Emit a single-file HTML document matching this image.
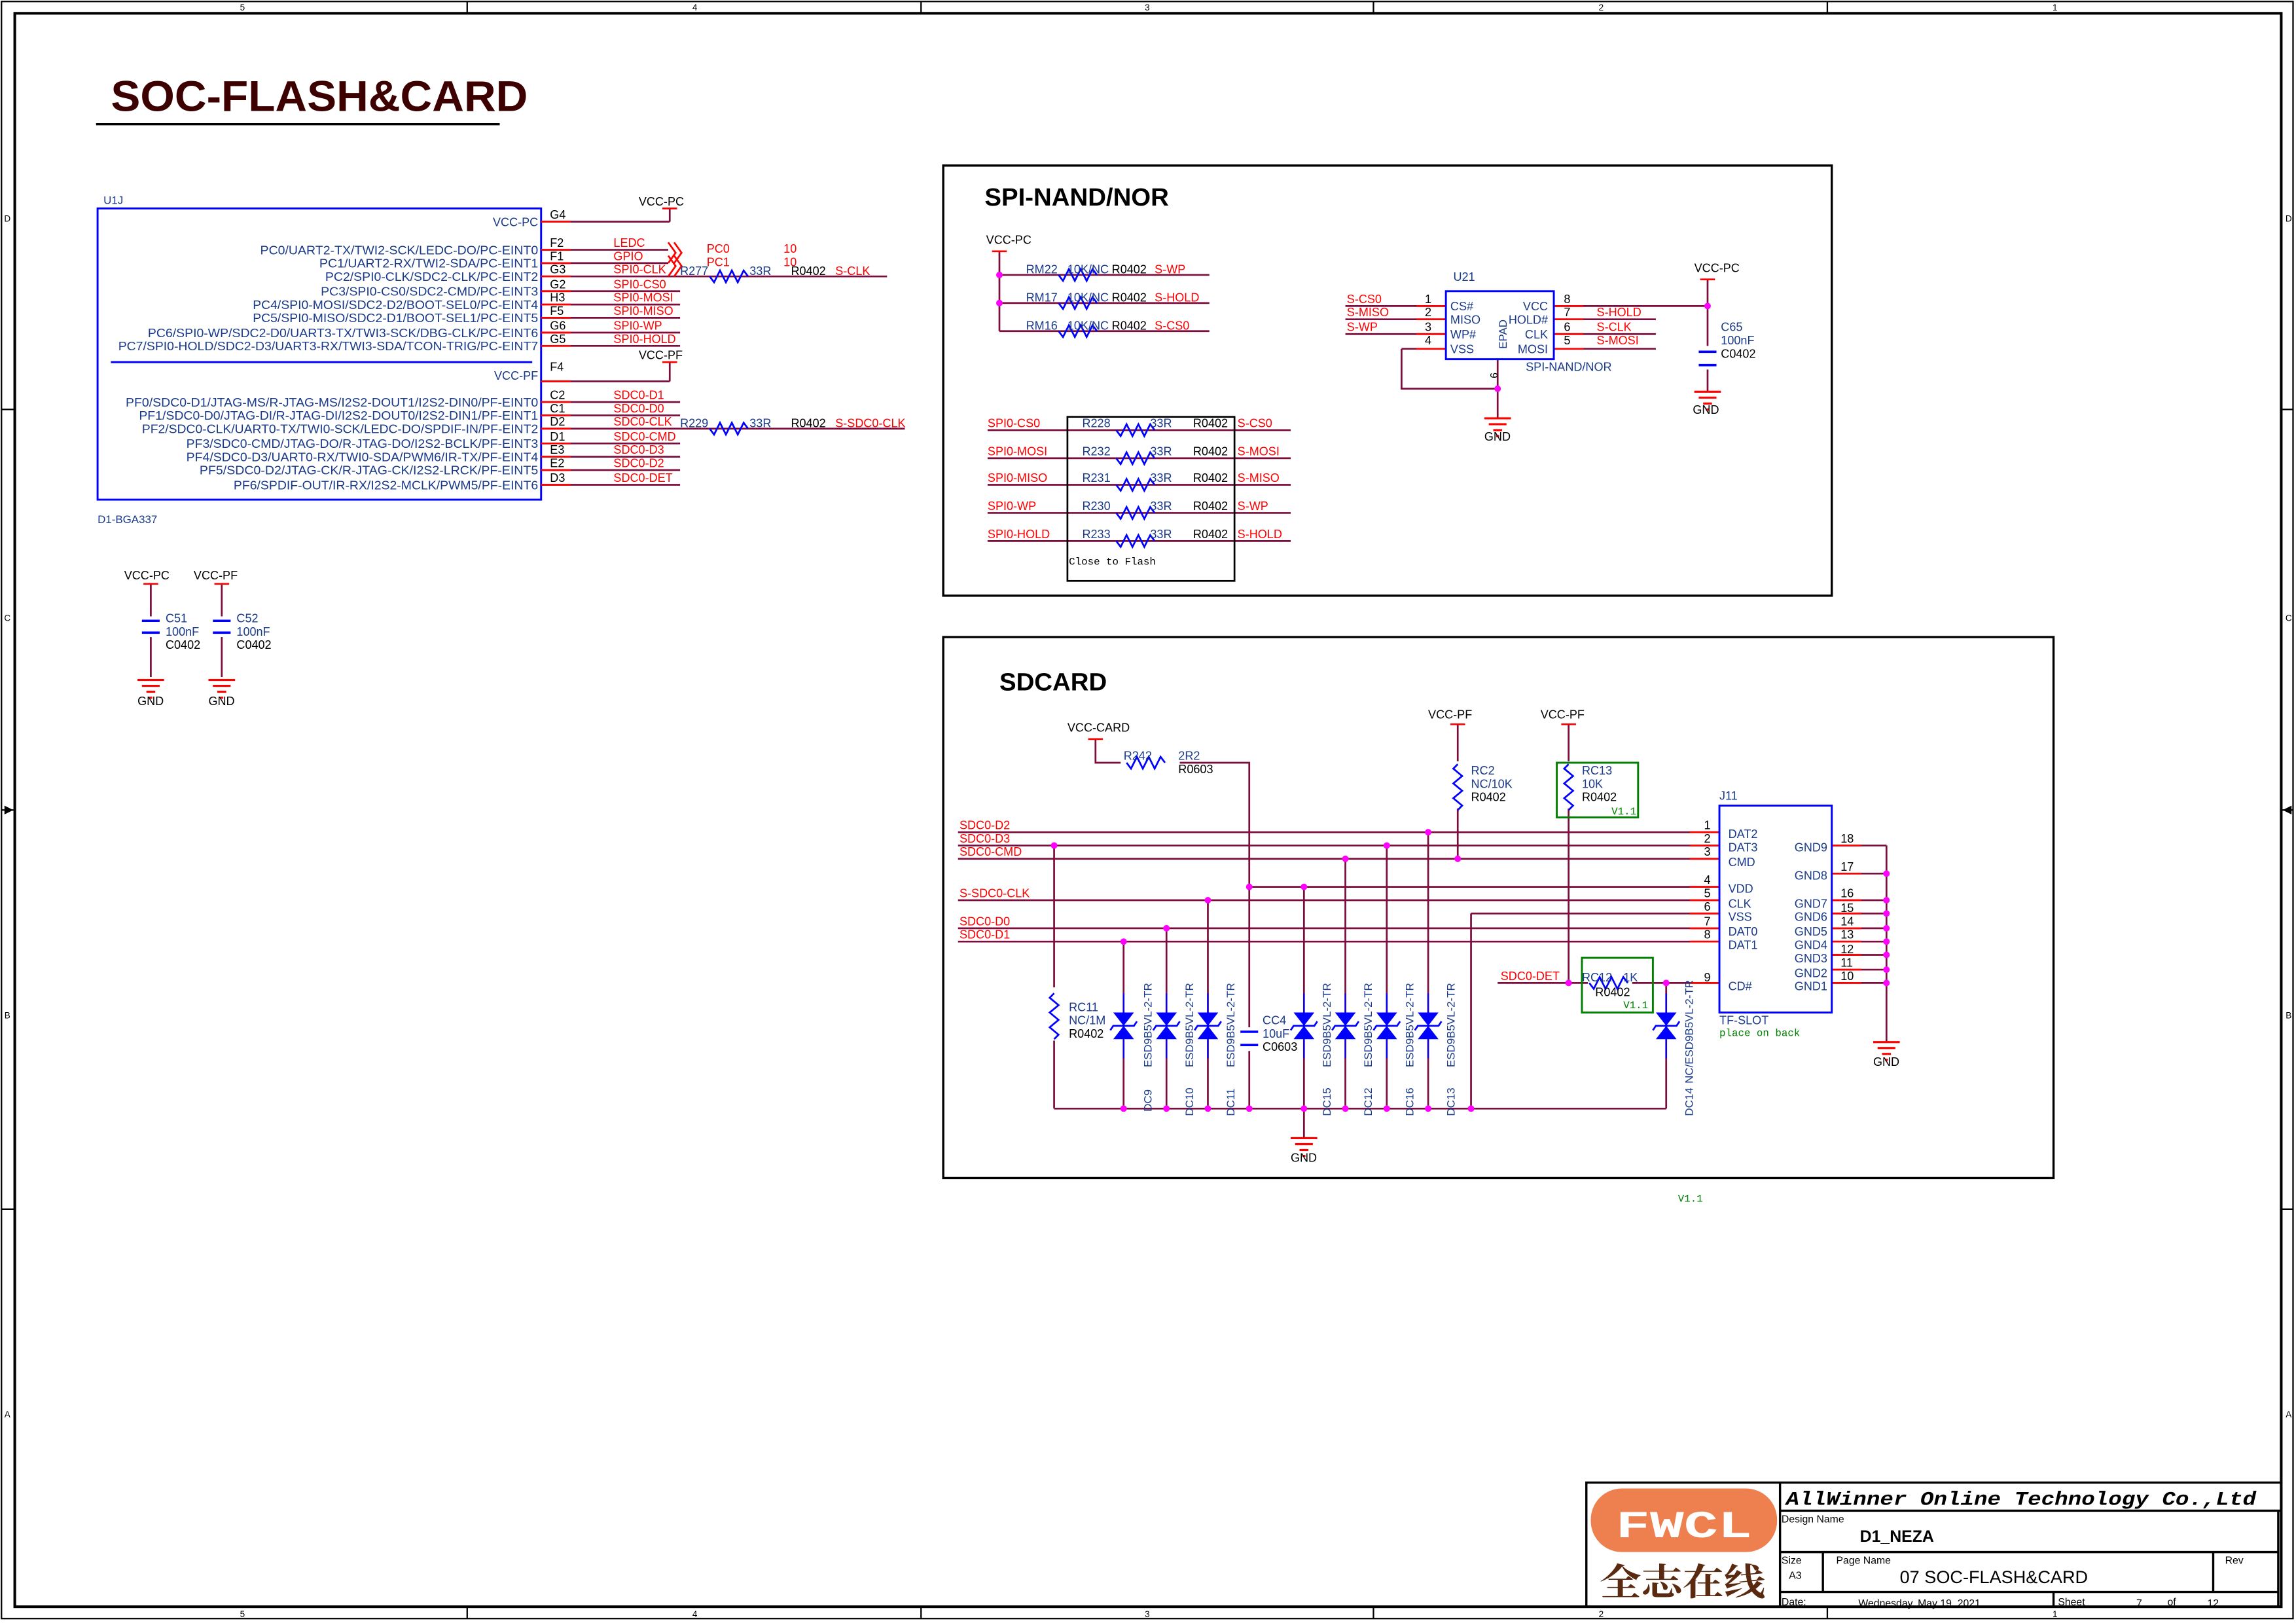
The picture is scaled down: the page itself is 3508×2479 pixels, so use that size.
<!DOCTYPE html>
<html><head><meta charset="utf-8"><style>html,body{margin:0;padding:0;background:#fff}svg{display:block}</style></head><body>
<svg xmlns="http://www.w3.org/2000/svg" width="3508" height="2479" viewBox="0 0 1553 1098" preserveAspectRatio="none" font-family="'Liberation Sans', sans-serif">
<defs>
<g id="gnd"><line x1="-9" y1="0" x2="9" y2="0" stroke="#f00" stroke-width="1.4"/><line x1="-6" y1="4" x2="6" y2="4" stroke="#f00" stroke-width="1.4"/><line x1="-3" y1="8" x2="3" y2="8" stroke="#f00" stroke-width="1.4"/><line x1="-1" y1="12" x2="1" y2="12" stroke="#f00" stroke-width="1.4"/></g>
<g id="tvs"><polygon points="-7,-9 7,-9 0,0" fill="#00f"/><polygon points="-7,9 7,9 0,0" fill="#00f"/><polyline points="-9,3 -7,0 7,0 9,-3" fill="none" stroke="#00f" stroke-width="1.2"/><line x1="0" y1="-22" x2="0" y2="-9" stroke="#00f" stroke-width="1"/><line x1="0" y1="9" x2="0" y2="22" stroke="#00f" stroke-width="1"/></g>
<path id="rh" d="M0,0 l3,4 l4,-8 l4,8 l4,-8 l4,8 l4,-8 l3,4" fill="none" stroke="#00f" stroke-width="1.2"/>
<path id="rv" d="M0,0 l-3,3 l6,5 l-6,5 l6,5 l-6,5 l6,5 l-3,3" fill="none" stroke="#00f" stroke-width="1.2"/>
</defs>
<!-- frame -->
<rect x="1" y="1" width="1550" height="1094" fill="none" stroke="#000" stroke-width="1"/>
<rect x="10" y="9" width="1533" height="1078" fill="none" stroke="#000" stroke-width="1.8"/>
<g stroke="#000" stroke-width="1"><line x1="316" y1="1" x2="316" y2="9"/><line x1="623" y1="1" x2="623" y2="9"/><line x1="929" y1="1" x2="929" y2="9"/><line x1="1236" y1="1" x2="1236" y2="9"/>
<line x1="316" y1="1087" x2="316" y2="1095"/><line x1="623" y1="1087" x2="623" y2="1095"/><line x1="929" y1="1087" x2="929" y2="1095"/><line x1="1236" y1="1087" x2="1236" y2="1095"/>
<line x1="1" y1="277" x2="10" y2="277"/><line x1="1" y1="548" x2="10" y2="548"/><line x1="1" y1="818" x2="10" y2="818"/><line x1="1543" y1="277" x2="1551" y2="277"/><line x1="1543" y1="548" x2="1551" y2="548"/><line x1="1543" y1="818" x2="1551" y2="818"/></g>
<g font-size="6" fill="#000" text-anchor="middle"><text x="164" y="7">5</text><text x="470" y="7">4</text><text x="776" y="7">3</text><text x="1083" y="7">2</text><text x="1390" y="7">1</text>
<text x="164" y="1094">5</text><text x="470" y="1094">4</text><text x="776" y="1094">3</text><text x="1083" y="1094">2</text><text x="1390" y="1094">1</text>
<text x="5" y="150">D</text><text x="5" y="420">C</text><text x="5" y="689">B</text><text x="5" y="959">A</text><text x="1548" y="150">D</text><text x="1548" y="420">C</text><text x="1548" y="689">B</text><text x="1548" y="959">A</text></g>
<polygon points="3,545 9,548 3,551" fill="#000"/><polygon points="1550,545 1544,548 1550,551" fill="#000"/>

<text x="75" y="75" font-size="29" font-weight="bold" fill="#3d0000" textLength="282" lengthAdjust="spacingAndGlyphs">SOC-FLASH&amp;CARD</text>
<line x1="65" y1="84" x2="338" y2="84" stroke="#000" stroke-width="1.5"/>

<!-- U1J -->
<rect x="66" y="141" width="300" height="197" fill="none" stroke="#0000ff" stroke-width="1.3"/>
<line x1="75" y1="245" x2="360" y2="245" stroke="#0000ff" stroke-width="1.3"/>
<text x="70" y="138" font-size="7.5" fill="#1a3a8a">U1J</text>
<text x="66" y="354" font-size="7.5" fill="#1a3a8a">D1-BGA337</text>
<g stroke-width="1.2">
<g stroke="#7b0c3c">
<line x1="366" y1="150" x2="453" y2="150"/><line x1="453" y1="141" x2="453" y2="150"/>
<line x1="366" y1="169" x2="452" y2="169"/><line x1="366" y1="178" x2="452" y2="178"/><line x1="366" y1="187" x2="600" y2="187"/>
<line x1="366" y1="197" x2="460" y2="197"/><line x1="366" y1="206" x2="460" y2="206"/><line x1="366" y1="215" x2="460" y2="215"/><line x1="366" y1="225" x2="460" y2="225"/><line x1="366" y1="234" x2="460" y2="234"/>
<line x1="366" y1="258" x2="453" y2="258"/><line x1="453" y1="245" x2="453" y2="258"/>
<line x1="366" y1="272" x2="460" y2="272"/><line x1="366" y1="281" x2="460" y2="281"/><line x1="366" y1="290" x2="612" y2="290"/><line x1="366" y1="300" x2="460" y2="300"/><line x1="366" y1="309" x2="460" y2="309"/><line x1="366" y1="318" x2="460" y2="318"/><line x1="366" y1="328" x2="460" y2="328"/>
</g>
<g stroke="#f00"><line x1="366" y1="150" x2="386" y2="150"/><line x1="366" y1="169" x2="386" y2="169"/><line x1="366" y1="178" x2="386" y2="178"/><line x1="366" y1="187" x2="386" y2="187"/><line x1="366" y1="197" x2="386" y2="197"/><line x1="366" y1="206" x2="386" y2="206"/><line x1="366" y1="215" x2="386" y2="215"/><line x1="366" y1="225" x2="386" y2="225"/><line x1="366" y1="234" x2="386" y2="234"/><line x1="366" y1="258" x2="386" y2="258"/><line x1="366" y1="272" x2="386" y2="272"/><line x1="366" y1="281" x2="386" y2="281"/><line x1="366" y1="290" x2="386" y2="290"/><line x1="366" y1="300" x2="386" y2="300"/><line x1="366" y1="309" x2="386" y2="309"/><line x1="366" y1="318" x2="386" y2="318"/><line x1="366" y1="328" x2="386" y2="328"/>
<line x1="448" y1="141" x2="458" y2="141"/><line x1="448" y1="245" x2="458" y2="245"/>
<polyline points="452,164 457,171 452,178" fill="none"/><polyline points="456,164 461,171 456,178" fill="none"/><polyline points="452,173 457,180 452,187" fill="none"/><polyline points="456,173 461,180 456,187" fill="none"/></g>
</g>
<use href="#rh" x="480" y="187"/><use href="#rh" x="480" y="290"/>
<g font-size="8" fill="#1a3a8a" text-anchor="end" lengthAdjust="spacingAndGlyphs">
<text x="364" y="153">VCC-PC</text>
<text x="364" y="172" textLength="188" lengthAdjust="spacingAndGlyphs">PC0/UART2-TX/TWI2-SCK/LEDC-DO/PC-EINT0</text>
<text x="364" y="181" textLength="148" lengthAdjust="spacingAndGlyphs">PC1/UART2-RX/TWI2-SDA/PC-EINT1</text>
<text x="364" y="190" textLength="144" lengthAdjust="spacingAndGlyphs">PC2/SPI0-CLK/SDC2-CLK/PC-EINT2</text>
<text x="364" y="200" textLength="147" lengthAdjust="spacingAndGlyphs">PC3/SPI0-CS0/SDC2-CMD/PC-EINT3</text>
<text x="364" y="209" textLength="193" lengthAdjust="spacingAndGlyphs">PC4/SPI0-MOSI/SDC2-D2/BOOT-SEL0/PC-EINT4</text>
<text x="364" y="218" textLength="193" lengthAdjust="spacingAndGlyphs">PC5/SPI0-MISO/SDC2-D1/BOOT-SEL1/PC-EINT5</text>
<text x="364" y="228" textLength="264" lengthAdjust="spacingAndGlyphs">PC6/SPI0-WP/SDC2-D0/UART3-TX/TWI3-SCK/DBG-CLK/PC-EINT6</text>
<text x="364" y="237" textLength="284" lengthAdjust="spacingAndGlyphs">PC7/SPI0-HOLD/SDC2-D3/UART3-RX/TWI3-SDA/TCON-TRIG/PC-EINT7</text>
<text x="364" y="257">VCC-PF</text>
<text x="364" y="275" textLength="279" lengthAdjust="spacingAndGlyphs">PF0/SDC0-D1/JTAG-MS/R-JTAG-MS/I2S2-DOUT1/I2S2-DIN0/PF-EINT0</text>
<text x="364" y="284" textLength="270" lengthAdjust="spacingAndGlyphs">PF1/SDC0-D0/JTAG-DI/R-JTAG-DI/I2S2-DOUT0/I2S2-DIN1/PF-EINT1</text>
<text x="364" y="293" textLength="268" lengthAdjust="spacingAndGlyphs">PF2/SDC0-CLK/UART0-TX/TWI0-SCK/LEDC-DO/SPDIF-IN/PF-EINT2</text>
<text x="364" y="303" textLength="238" lengthAdjust="spacingAndGlyphs">PF3/SDC0-CMD/JTAG-DO/R-JTAG-DO/I2S2-BCLK/PF-EINT3</text>
<text x="364" y="312" textLength="238" lengthAdjust="spacingAndGlyphs">PF4/SDC0-D3/UART0-RX/TWI0-SDA/PWM6/IR-TX/PF-EINT4</text>
<text x="364" y="321" textLength="229" lengthAdjust="spacingAndGlyphs">PF5/SDC0-D2/JTAG-CK/R-JTAG-CK/I2S2-LRCK/PF-EINT5</text>
<text x="364" y="331" textLength="206" lengthAdjust="spacingAndGlyphs">PF6/SPDIF-OUT/IR-RX/I2S2-MCLK/PWM5/PF-EINT6</text>
</g>
<g font-size="8" fill="#000">
<text x="372" y="148">G4</text><text x="372" y="167">F2</text><text x="372" y="176">F1</text><text x="372" y="185">G3</text><text x="372" y="195">G2</text><text x="372" y="204">H3</text><text x="372" y="213">F5</text><text x="372" y="223">G6</text><text x="372" y="232">G5</text><text x="372" y="251">F4</text>
<text x="372" y="270">C2</text><text x="372" y="279">C1</text><text x="372" y="288">D2</text><text x="372" y="298">D1</text><text x="372" y="307">E3</text><text x="372" y="316">E2</text><text x="372" y="326">D3</text>
<text x="432" y="139">VCC-PC</text><text x="432" y="243">VCC-PF</text>
<text x="535" y="186">R0402</text><text x="535" y="289">R0402</text>
</g>
<g font-size="8" fill="#1a3a8a"><text x="460" y="186">R277</text><text x="507" y="186">33R</text><text x="460" y="289">R229</text><text x="507" y="289">33R</text></g>
<g font-size="8" fill="#f00">
<text x="415" y="167">LEDC</text><text x="415" y="176">GPIO</text><text x="415" y="185">SPI0-CLK</text><text x="415" y="195">SPI0-CS0</text><text x="415" y="204">SPI0-MOSI</text><text x="415" y="213">SPI0-MISO</text><text x="415" y="223">SPI0-WP</text><text x="415" y="232">SPI0-HOLD</text>
<text x="478" y="171">PC0</text><text x="478" y="180">PC1</text><text x="530" y="171">10</text><text x="530" y="180">10</text><text x="565" y="186">S-CLK</text>
<text x="415" y="270">SDC0-D1</text><text x="415" y="279">SDC0-D0</text><text x="415" y="288">SDC0-CLK</text><text x="415" y="298">SDC0-CMD</text><text x="415" y="307">SDC0-D3</text><text x="415" y="316">SDC0-D2</text><text x="415" y="326">SDC0-DET</text>
<text x="565" y="289">S-SDC0-CLK</text>
</g>

<!-- C51 C52 -->
<g stroke-width="1.2">
<line x1="102" y1="395" x2="102" y2="458" stroke="#7b0c3c"/><line x1="150" y1="395" x2="150" y2="458" stroke="#7b0c3c"/>
<rect x="94" y="417" width="16" height="14" fill="#fff" stroke="none"/><rect x="142" y="417" width="16" height="14" fill="#fff" stroke="none"/>
<g stroke="#00f" stroke-width="1.6"><line x1="96" y1="420" x2="108" y2="420"/><line x1="96" y1="428" x2="108" y2="428"/><line x1="144" y1="420" x2="156" y2="420"/><line x1="144" y1="428" x2="156" y2="428"/></g>
<g stroke="#f00"><line x1="97" y1="395" x2="107" y2="395"/><line x1="145" y1="395" x2="155" y2="395"/></g>
</g>
<use href="#gnd" x="102" y="460"/><use href="#gnd" x="150" y="460"/>
<g font-size="8" fill="#000"><text x="84" y="392">VCC-PC</text><text x="131" y="392">VCC-PF</text><text x="93" y="477">GND</text><text x="141" y="477">GND</text>
<text x="112" y="421" fill="#1a3a8a">C51</text><text x="112" y="430" fill="#1a3a8a">100nF</text><text x="112" y="439">C0402</text>
<text x="160" y="421" fill="#1a3a8a">C52</text><text x="160" y="430" fill="#1a3a8a">100nF</text><text x="160" y="439">C0402</text></g>

<!-- SPI NAND/NOR -->
<rect x="638" y="112" width="601" height="291" fill="none" stroke="#000" stroke-width="1.5"/>
<text x="666" y="139" font-size="17" font-weight="bold" fill="#000">SPI-NAND/NOR</text>
<g stroke-width="1.2">
<g stroke="#7b0c3c">
<line x1="676" y1="170" x2="676" y2="224"/>
<line x1="676" y1="186" x2="818" y2="186"/><line x1="676" y1="205" x2="818" y2="205"/><line x1="676" y1="224" x2="818" y2="224"/>
<line x1="910" y1="207" x2="978" y2="207"/><line x1="910" y1="216" x2="978" y2="216"/><line x1="910" y1="226" x2="978" y2="226"/><line x1="948" y1="236" x2="978" y2="236"/>
<polyline points="948,236 948,263 1013,263" fill="none"/><line x1="1013" y1="243" x2="1013" y2="283"/>
<line x1="1051" y1="207" x2="1155" y2="207"/><line x1="1051" y1="216" x2="1120" y2="216"/><line x1="1051" y1="226" x2="1120" y2="226"/><line x1="1051" y1="236" x2="1120" y2="236"/>
<line x1="1155" y1="189" x2="1155" y2="265"/>
<line x1="668" y1="291" x2="873" y2="291"/><line x1="668" y1="310" x2="873" y2="310"/><line x1="668" y1="328" x2="873" y2="328"/><line x1="668" y1="347" x2="873" y2="347"/><line x1="668" y1="366" x2="873" y2="366"/>
</g>
<g stroke="#f00"><line x1="671" y1="170" x2="681" y2="170"/><line x1="1150" y1="189" x2="1160" y2="189"/><line x1="958" y1="207" x2="978" y2="207"/><line x1="958" y1="216" x2="978" y2="216"/><line x1="958" y1="226" x2="978" y2="226"/><line x1="958" y1="236" x2="978" y2="236"/><line x1="1051" y1="207" x2="1071" y2="207"/><line x1="1051" y1="216" x2="1071" y2="216"/><line x1="1051" y1="226" x2="1071" y2="226"/><line x1="1051" y1="236" x2="1071" y2="236"/></g>
</g>
<rect x="1150" y="234" width="10" height="16" fill="#fff"/>
<g stroke="#00f" stroke-width="1.6"><line x1="1149" y1="238" x2="1161" y2="238"/><line x1="1149" y1="247" x2="1161" y2="247"/></g>
<use href="#rh" x="716" y="186"/><use href="#rh" x="716" y="205"/><use href="#rh" x="716" y="224"/>
<use href="#rh" x="755" y="291"/><use href="#rh" x="755" y="310"/><use href="#rh" x="755" y="328"/><use href="#rh" x="755" y="347"/><use href="#rh" x="755" y="366"/>
<rect x="978" y="197" width="73" height="46" fill="none" stroke="#00f" stroke-width="1.3"/>
<rect x="722" y="282" width="113" height="111" fill="none" stroke="#000" stroke-width="1.2"/>
<use href="#gnd" x="1155" y="265"/><use href="#gnd" x="1013" y="283"/>
<g fill="#f0f"><circle cx="676" cy="186" r="2.2"/><circle cx="676" cy="205" r="2.2"/><circle cx="1155" cy="207" r="2.2"/><circle cx="1013" cy="263" r="2.2"/></g>
<g font-size="8" fill="#1a3a8a">
<text x="694" y="185">RM22</text><text x="722" y="185">10K/NC</text><text x="694" y="204">RM17</text><text x="722" y="204">10K/NC</text><text x="694" y="223">RM16</text><text x="722" y="223">10K/NC</text>
<text x="983" y="190">U21</text>
<text x="981" y="210">CS#</text><text x="981" y="219">MISO</text><text x="981" y="229">WP#</text><text x="981" y="239">VSS</text>
<text x="1047" y="210" text-anchor="end">VCC</text><text x="1047" y="219" text-anchor="end">HOLD#</text><text x="1047" y="229" text-anchor="end">CLK</text><text x="1047" y="239" text-anchor="end">MOSI</text>
<text transform="translate(1019,236) rotate(-90)" font-size="7.5">EPAD</text>
<text x="1032" y="251">SPI-NAND/NOR</text>
<text x="1164" y="224">C65</text><text x="1164" y="233">100nF</text>
<text x="732" y="289">R228</text><text x="778" y="289">33R</text><text x="732" y="308">R232</text><text x="778" y="308">33R</text><text x="732" y="326">R231</text><text x="778" y="326">33R</text><text x="732" y="345">R230</text><text x="778" y="345">33R</text><text x="732" y="364">R233</text><text x="778" y="364">33R</text>
</g>
<g font-size="8" fill="#000">
<text x="667" y="165">VCC-PC</text><text x="1146" y="184">VCC-PC</text>
<text x="752" y="185">R0402</text><text x="752" y="204">R0402</text><text x="752" y="223">R0402</text>
<text x="966" y="205" text-anchor="middle">1</text><text x="966" y="214" text-anchor="middle">2</text><text x="966" y="224" text-anchor="middle">3</text><text x="966" y="233" text-anchor="middle">4</text>
<text x="1060" y="205" text-anchor="middle">8</text><text x="1060" y="214" text-anchor="middle">7</text><text x="1060" y="224" text-anchor="middle">6</text><text x="1060" y="233" text-anchor="middle">5</text>
<text transform="translate(1008,252) rotate(90)" font-size="7">9</text>
<text x="1164" y="242">C0402</text><text x="1145" y="280">GND</text><text x="1004" y="298">GND</text>
<text x="807" y="289">R0402</text><text x="807" y="308">R0402</text><text x="807" y="326">R0402</text><text x="807" y="345">R0402</text><text x="807" y="364">R0402</text>
<text x="723" y="382" font-family="'Liberation Mono', monospace" font-size="7">Close to Flash</text>
</g>
<g font-size="8" fill="#f00">
<text x="781" y="185">S-WP</text><text x="781" y="204">S-HOLD</text><text x="781" y="223">S-CS0</text>
<text x="911" y="205">S-CS0</text><text x="911" y="214">S-MISO</text><text x="911" y="224">S-WP</text>
<text x="1080" y="214">S-HOLD</text><text x="1080" y="224">S-CLK</text><text x="1080" y="233">S-MOSI</text>
<text x="668" y="289">SPI0-CS0</text><text x="668" y="308">SPI0-MOSI</text><text x="668" y="326">SPI0-MISO</text><text x="668" y="345">SPI0-WP</text><text x="668" y="364">SPI0-HOLD</text>
<text x="837" y="289">S-CS0</text><text x="837" y="308">S-MOSI</text><text x="837" y="326">S-MISO</text><text x="837" y="345">S-WP</text><text x="837" y="364">S-HOLD</text>
</g>

<!-- SDCARD -->
<rect x="638" y="431" width="751" height="366" fill="none" stroke="#000" stroke-width="1.5"/>
<text x="676" y="467" font-size="17" font-weight="bold" fill="#000">SDCARD</text>
<g stroke-width="1.2">
<g stroke="#7b0c3c">
<polyline points="741,500 741,516 760,516" fill="none"/><polyline points="796,516 845,516 845,750" fill="none"/>
<line x1="648" y1="563" x2="1163" y2="563"/><line x1="648" y1="572" x2="1163" y2="572"/><line x1="648" y1="581" x2="1163" y2="581"/>
<line x1="845" y1="600" x2="1163" y2="600"/><line x1="648" y1="609" x2="1163" y2="609"/><line x1="995" y1="618" x2="1163" y2="618"/>
<line x1="648" y1="628" x2="1163" y2="628"/><line x1="648" y1="637" x2="1163" y2="637"/>
<line x1="995" y1="618" x2="995" y2="750"/>
<line x1="986" y1="490" x2="986" y2="581"/><line x1="1061" y1="490" x2="1061" y2="665"/>
<line x1="1013" y1="665" x2="1163" y2="665"/><line x1="1127" y1="665" x2="1127" y2="750"/>
<line x1="713" y1="750" x2="1127" y2="750"/><line x1="713" y1="572" x2="713" y2="750"/>
<line x1="760" y1="637" x2="760" y2="750"/><line x1="789" y1="628" x2="789" y2="750"/><line x1="817" y1="609" x2="817" y2="750"/>
<line x1="882" y1="600" x2="882" y2="770"/><line x1="910" y1="581" x2="910" y2="750"/><line x1="938" y1="572" x2="938" y2="750"/><line x1="966" y1="563" x2="966" y2="750"/>
<line x1="1239" y1="572" x2="1276" y2="572"/><line x1="1239" y1="591" x2="1276" y2="591"/><line x1="1239" y1="609" x2="1276" y2="609"/><line x1="1239" y1="618" x2="1276" y2="618"/><line x1="1239" y1="628" x2="1276" y2="628"/><line x1="1239" y1="637" x2="1276" y2="637"/><line x1="1239" y1="646" x2="1276" y2="646"/><line x1="1239" y1="656" x2="1276" y2="656"/><line x1="1239" y1="665" x2="1276" y2="665"/>
<line x1="1276" y1="572" x2="1276" y2="705"/>
</g>
<g stroke="#f00"><line x1="736" y1="500" x2="746" y2="500"/><line x1="981" y1="490" x2="991" y2="490"/><line x1="1056" y1="490" x2="1066" y2="490"/>
<line x1="1143" y1="563" x2="1163" y2="563"/><line x1="1143" y1="572" x2="1163" y2="572"/><line x1="1143" y1="581" x2="1163" y2="581"/><line x1="1143" y1="600" x2="1163" y2="600"/><line x1="1143" y1="609" x2="1163" y2="609"/><line x1="1143" y1="618" x2="1163" y2="618"/><line x1="1143" y1="628" x2="1163" y2="628"/><line x1="1143" y1="637" x2="1163" y2="637"/><line x1="1143" y1="665" x2="1163" y2="665"/>
<line x1="1239" y1="572" x2="1259" y2="572"/><line x1="1239" y1="591" x2="1259" y2="591"/><line x1="1239" y1="609" x2="1259" y2="609"/><line x1="1239" y1="618" x2="1259" y2="618"/><line x1="1239" y1="628" x2="1259" y2="628"/><line x1="1239" y1="637" x2="1259" y2="637"/><line x1="1239" y1="646" x2="1259" y2="646"/><line x1="1239" y1="656" x2="1259" y2="656"/><line x1="1239" y1="665" x2="1259" y2="665"/></g>
</g>
<!-- resistors -->
<rect x="758" y="510" width="40" height="12" fill="#fff"/><use href="#rh" x="762" y="516"/>
<rect x="980" y="515" width="12" height="32" fill="#fff"/><use href="#rv" x="986" y="517"/>
<rect x="1055" y="515" width="12" height="32" fill="#fff"/><use href="#rv" x="1061" y="517"/>
<rect x="707" y="668" width="12" height="36" fill="#fff"/><use href="#rv" x="713" y="672"/>
<rect x="1074" y="659" width="30" height="12" fill="#fff"/><use href="#rh" x="1075" y="665"/>
<!-- cap CC4 -->
<rect x="839" y="695" width="12" height="16" fill="#fff"/>
<g stroke="#00f" stroke-width="1.6"><line x1="839" y1="698" x2="851" y2="698"/><line x1="839" y1="707" x2="851" y2="707"/></g>
<!-- diodes -->
<use href="#tvs" x="760" y="694"/><use href="#tvs" x="789" y="694"/><use href="#tvs" x="817" y="694"/><use href="#tvs" x="882" y="694"/><use href="#tvs" x="910" y="694"/><use href="#tvs" x="938" y="694"/><use href="#tvs" x="966" y="694"/><use href="#tvs" x="1127" y="694"/>
<!-- boxes -->
<rect x="1163" y="545" width="76" height="140" fill="none" stroke="#00f" stroke-width="1.3"/>
<rect x="1053" y="516" width="55" height="37" fill="none" stroke="#008000" stroke-width="1.3"/>
<rect x="1070" y="648" width="48" height="37" fill="none" stroke="#008000" stroke-width="1.3"/>
<use href="#gnd" x="882" y="770"/><use href="#gnd" x="1276" y="705"/>
<g fill="#f0f">
<circle cx="966" cy="563" r="2.2"/><circle cx="713" cy="572" r="2.2"/><circle cx="938" cy="572" r="2.2"/><circle cx="910" cy="581" r="2.2"/><circle cx="986" cy="581" r="2.2"/>
<circle cx="845" cy="600" r="2.2"/><circle cx="882" cy="600" r="2.2"/><circle cx="817" cy="609" r="2.2"/><circle cx="789" cy="628" r="2.2"/><circle cx="760" cy="637" r="2.2"/>
<circle cx="1061" cy="665" r="2.2"/><circle cx="1127" cy="665" r="2.2"/>
<circle cx="760" cy="750" r="2.2"/><circle cx="789" cy="750" r="2.2"/><circle cx="817" cy="750" r="2.2"/><circle cx="845" cy="750" r="2.2"/><circle cx="882" cy="750" r="2.2"/><circle cx="910" cy="750" r="2.2"/><circle cx="938" cy="750" r="2.2"/><circle cx="966" cy="750" r="2.2"/><circle cx="995" cy="750" r="2.2"/>
<circle cx="1276" cy="591" r="2.2"/><circle cx="1276" cy="609" r="2.2"/><circle cx="1276" cy="618" r="2.2"/><circle cx="1276" cy="628" r="2.2"/><circle cx="1276" cy="637" r="2.2"/><circle cx="1276" cy="646" r="2.2"/><circle cx="1276" cy="656" r="2.2"/><circle cx="1276" cy="665" r="2.2"/>
</g>
<g font-size="8" fill="#f00">
<text x="649" y="561">SDC0-D2</text><text x="649" y="570">SDC0-D3</text><text x="649" y="579">SDC0-CMD</text><text x="649" y="607">S-SDC0-CLK</text><text x="649" y="626">SDC0-D0</text><text x="649" y="635">SDC0-D1</text><text x="1015" y="663">SDC0-DET</text>
</g>
<g font-size="8" fill="#000">
<text x="722" y="495">VCC-CARD</text><text x="966" y="486">VCC-PF</text><text x="1042" y="486">VCC-PF</text>
<text x="797" y="523">R0603</text><text x="995" y="542">R0402</text><text x="1070" y="542">R0402</text><text x="723" y="702">R0402</text><text x="854" y="711">C0603</text><text x="1079" y="674">R0402</text>
<text x="873" y="786">GND</text><text x="1267" y="721">GND</text>
<text x="1157" y="561" text-anchor="end">1</text><text x="1157" y="570" text-anchor="end">2</text><text x="1157" y="579" text-anchor="end">3</text><text x="1157" y="598" text-anchor="end">4</text><text x="1157" y="607" text-anchor="end">5</text><text x="1157" y="616" text-anchor="end">6</text><text x="1157" y="626" text-anchor="end">7</text><text x="1157" y="635" text-anchor="end">8</text><text x="1157" y="664" text-anchor="end">9</text>
<text x="1245" y="570">18</text><text x="1245" y="589">17</text><text x="1245" y="607">16</text><text x="1245" y="617">15</text><text x="1245" y="626">14</text><text x="1245" y="635">13</text><text x="1245" y="645">12</text><text x="1245" y="654">11</text><text x="1245" y="663">10</text>
</g>
<g font-size="8" fill="#1a3a8a">
<text x="760" y="514">R242</text><text x="797" y="514">2R2</text>
<text x="995" y="524">RC2</text><text x="995" y="533">NC/10K</text><text x="1070" y="524">RC13</text><text x="1070" y="533">10K</text>
<text x="723" y="684">RC11</text><text x="723" y="693">NC/1M</text><text x="854" y="693">CC4</text><text x="854" y="702">10uF</text>
<text x="1070" y="664">RC12</text><text x="1098" y="664">1K</text>
<text x="1163" y="541">J11</text>
<text x="1169" y="567">DAT2</text><text x="1169" y="576">DAT3</text><text x="1169" y="586">CMD</text><text x="1169" y="604">VDD</text><text x="1169" y="614">CLK</text><text x="1169" y="623">VSS</text><text x="1169" y="633">DAT0</text><text x="1169" y="642">DAT1</text><text x="1169" y="670">CD#</text>
<text x="1236" y="576" text-anchor="end">GND9</text><text x="1236" y="595" text-anchor="end">GND8</text><text x="1236" y="614" text-anchor="end">GND7</text><text x="1236" y="623" text-anchor="end">GND6</text><text x="1236" y="633" text-anchor="end">GND5</text><text x="1236" y="642" text-anchor="end">GND4</text><text x="1236" y="651" text-anchor="end">GND3</text><text x="1236" y="661" text-anchor="end">GND2</text><text x="1236" y="670" text-anchor="end">GND1</text>
<text x="1163" y="693">TF-SLOT</text>
<g font-size="7.5">
<text transform="translate(779,722) rotate(-90)">ESD9B5VL-2-TR</text><text transform="translate(779,752) rotate(-90)">DC9</text>
<text transform="translate(807,722) rotate(-90)">ESD9B5VL-2-TR</text><text transform="translate(807,755) rotate(-90)">DC10</text>
<text transform="translate(835,722) rotate(-90)">ESD9B5VL-2-TR</text><text transform="translate(835,755) rotate(-90)">DC11</text>
<text transform="translate(900,722) rotate(-90)">ESD9B5VL-2-TR</text><text transform="translate(900,755) rotate(-90)">DC15</text>
<text transform="translate(928,722) rotate(-90)">ESD9B5VL-2-TR</text><text transform="translate(928,755) rotate(-90)">DC12</text>
<text transform="translate(956,722) rotate(-90)">ESD9B5VL-2-TR</text><text transform="translate(956,755) rotate(-90)">DC16</text>
<text transform="translate(984,722) rotate(-90)">ESD9B5VL-2-TR</text><text transform="translate(984,755) rotate(-90)">DC13</text>
<text transform="translate(1145,733) rotate(-90)">NC/ESD9B5VL-2-TR</text><text transform="translate(1145,755) rotate(-90)">DC14</text>
</g>
</g>
<g font-family="'Liberation Mono', monospace" font-size="7" fill="#008000">
<text x="1090" y="551">V1.1</text><text x="1098" y="682">V1.1</text><text x="1163" y="701">place on back</text><text x="1135" y="813">V1.1</text>
</g>

<!-- title block -->
<g stroke="#000" stroke-width="1.5" fill="none">
<rect x="1073" y="1003" width="470" height="84"/>
<line x1="1204" y1="1003" x2="1204" y2="1087"/>
<line x1="1204" y1="1022" x2="1543" y2="1022"/><line x1="1204" y1="1050" x2="1541" y2="1050"/><line x1="1204" y1="1077" x2="1541" y2="1077"/>
<line x1="1233" y1="1050" x2="1233" y2="1077"/><line x1="1497" y1="1050" x2="1497" y2="1077"/><line x1="1389" y1="1077" x2="1389" y2="1087"/><line x1="1541" y1="1022" x2="1541" y2="1087"/>
</g>
<rect x="1076" y="1007" width="126" height="43" rx="21" fill="#ee8050"/>
<text x="1139" y="1040" text-anchor="middle" font-size="26" font-weight="bold" fill="#fff" font-family="'Liberation Mono', monospace" textLength="92" lengthAdjust="spacingAndGlyphs">FWCL</text>
<text x="1082" y="1079" font-size="25" font-weight="bold" fill="#5a2a10" font-family="'Liberation Serif','Noto Serif CJK SC',serif" textLength="112" lengthAdjust="spacingAndGlyphs">全志在线</text>
<text x="1208" y="1018" font-family="'Liberation Mono', monospace" font-size="13" font-weight="bold" font-style="italic" fill="#000" textLength="318" lengthAdjust="spacingAndGlyphs">AllWinner Online Technology Co.,Ltd</text>
<g font-size="7" fill="#000">
<text x="1205" y="1030">Design Name</text><text x="1205" y="1058">Size</text><text x="1210" y="1068">A3</text><text x="1242" y="1058">Page Name</text><text x="1505" y="1058">Rev</text>
<text x="1205" y="1086">Date:</text><text x="1257" y="1087">Wednesday, May 19, 2021</text><text x="1392" y="1086">Sheet</text><text x="1445" y="1087">7</text><text x="1466" y="1086">of</text><text x="1493" y="1087">12</text>
</g>
<text x="1258" y="1043" font-size="11" font-weight="bold" fill="#000">D1_NEZA</text>
<text x="1285" y="1071" font-size="12" fill="#000">07 SOC-FLASH&amp;CARD</text>
</svg>
</body></html>
